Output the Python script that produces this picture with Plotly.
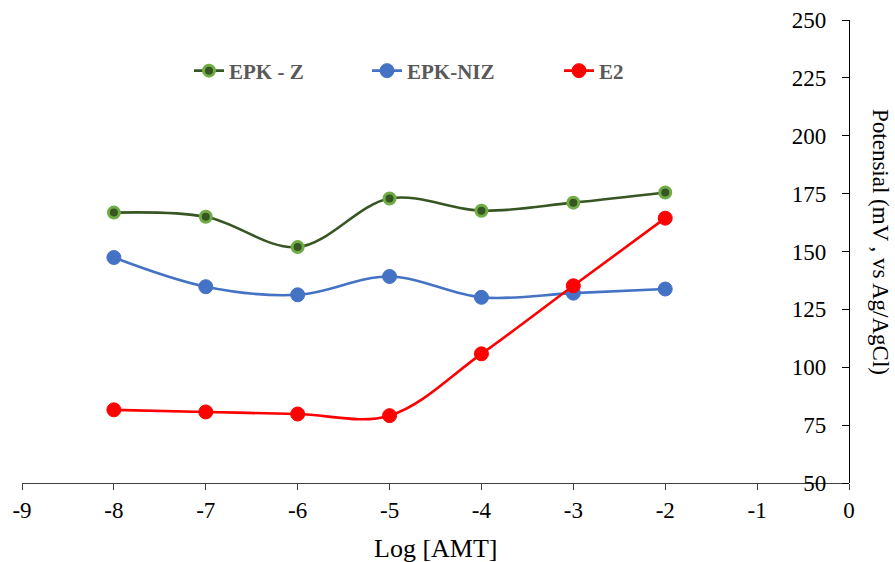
import plotly.graph_objects as go

x_log = [-8, -7, -6, -5, -4, -3, -2]
epk_z = [166.8, 165.0, 151.9, 172.9, 167.6, 171.1, 175.5]
epk_niz = [147.4, 134.8, 131.3, 139.2, 130.2, 132.0, 133.8]
e2 = [81.6, 80.7, 79.8, 79.1, 105.8, 135.2, 164.4]

x_ticks = [-9, -8, -7, -6, -5, -4, -3, -2, -1, 0]
y_ticks = [50, 75, 100, 125, 150, 175, 200, 225, 250]

SERIF = "Liberation Serif, Times New Roman, serif"

fig = go.Figure()
fig.add_trace(go.Scatter(
    x=x_log, y=epk_z, name="EPK - Z", mode="lines+markers",
    line=dict(color="#375623", width=2.6, shape="spline", smoothing=1),
    marker=dict(size=11, color="#375623", line=dict(color="#70AD47", width=3)),
    legend="legend",
))
fig.add_trace(go.Scatter(
    x=x_log, y=epk_niz, name="EPK-NIZ", mode="lines+markers",
    line=dict(color="#4472C4", width=2.6, shape="spline", smoothing=1),
    marker=dict(size=14, color="#4472C4", line=dict(color="#4472C4", width=1)),
    legend="legend2",
))
fig.add_trace(go.Scatter(
    x=x_log, y=e2, name="E2", mode="lines+markers",
    line=dict(color="#FF0000", width=2.6, shape="spline", smoothing=1),
    marker=dict(size=14, color="#FF0000", line=dict(color="#FF0000", width=1)),
    legend="legend3",
))

L, R, T, B = 22, 46, 20, 79
W, H = 895, 562
pw = W - L - R
ph = H - T - B

def px2paper(px):
    return (px - L) / pw

def py2paper(py):
    return (H - B - py) / ph

leg_font = dict(family=SERIF, size=21, color="#595959", weight="bold")
leg_common = dict(orientation="h", yanchor="middle", y=py2paper(71), xanchor="left",
                  bgcolor="rgba(0,0,0,0)", font=leg_font)

fig.update_layout(
    width=W, height=H,
    margin=dict(l=L, r=R, t=T, b=B),
    paper_bgcolor="white", plot_bgcolor="white",
    font=dict(family=SERIF, color="black"),
    showlegend=True,
    legend=dict(x=px2paper(189), **leg_common),
    legend2=dict(x=px2paper(367), **leg_common),
    legend3=dict(x=px2paper(559), **leg_common),
    xaxis=dict(
        domain=[0, 1], automargin=False,
        range=[-9, 0], tickvals=x_ticks, ticktext=[str(v) for v in x_ticks],
        showgrid=False, zeroline=False, showline=True, linecolor="#404040", linewidth=1.3,
        ticks="outside", ticklen=6, tickcolor="#404040", tickwidth=1.3,
        tickfont=dict(family=SERIF, size=23, color="black"),
    ),
    yaxis=dict(
        range=[50, 250], tickvals=y_ticks, ticktext=[str(v) for v in y_ticks],
        anchor="free", position=1.0, side="left", automargin=False,
        showgrid=False, zeroline=False, showline=True,
        linecolor="black", linewidth=1.3,
        ticks="outside", ticklen=7, tickcolor="black", tickwidth=1.3,
        ticklabelstandoff=11,
        tickfont=dict(family=SERIF, size=23, color="black"),
    ),
    annotations=[
        dict(
            text="Potensial (mV , vs Ag/AgCl)", textangle=90,
            x=px2paper(881), y=py2paper(242), xref="paper", yref="paper",
            xanchor="center", yanchor="middle", showarrow=False,
            font=dict(family=SERIF, size=23, color="black"),
        ),
        dict(
            text="Log [AMT]",
            x=px2paper(435), y=py2paper(548), xref="paper", yref="paper",
            xanchor="center", yanchor="middle", showarrow=False,
            font=dict(family=SERIF, size=26, color="black"),
        ),
    ],
)

fig.write_html("out.html", config={"displayModeBar": False},
               post_script="document.body.style.margin='0';document.body.style.padding='0';")
